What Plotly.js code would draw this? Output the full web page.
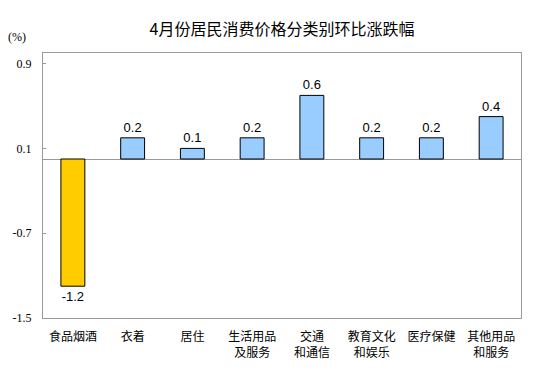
<!DOCTYPE html>
<html>
<head>
<meta charset="utf-8">
<script src="https://cdn.plot.ly/plotly-3.0.1.min.js"></script>
<style>html,body{margin:0;padding:0;background:#fff;}#chart{width:544px;height:383px;}</style>
</head>
<body>
<div id="chart"></div>
<script>
const categories = ["食品烟酒", "衣着", "居住", "生活用品<br>及服务", "交通<br>和通信", "教育文化<br>和娱乐", "医疗保健", "其他用品<br>和服务"];
const values = [-1.2, 0.2, 0.1, 0.2, 0.6, 0.2, 0.2, 0.4];
const barColors = ["#FFCC00", "#99CCFF", "#99CCFF", "#99CCFF", "#99CCFF", "#99CCFF", "#99CCFF", "#99CCFF"];
const yTicks = [0.9, 0.1, -0.7, -1.5];

const trace = {
  type: "bar",
  x: categories,
  y: values,
  width: 0.4,
  marker: {color: barColors, line: {color: "#000", width: 1}},
  text: values.map(v => v.toFixed(1)),
  textposition: "outside",
  cliponaxis: false,
  textfont: {family: "Liberation Sans, Arial, sans-serif", size: 13, color: "#000"},
  hoverinfo: "skip"
};

const layout = {
  width: 544, height: 383,
  margin: {l: 43, r: 23, t: 53, b: 65},
  paper_bgcolor: "#fff", plot_bgcolor: "#fff",
  showlegend: false,
  font: {family: "Noto Sans CJK SC, sans-serif", color: "#000"},
  title: {
    text: "4月份居民消费价格分类别环比涨跌幅",
    font: {family: "Noto Sans CJK SC, sans-serif", size: 16, color: "#000"},
    x: 0.5, xanchor: "center", xref: "paper",
    y: 1 - 29/383, yanchor: "middle", yref: "container"
  },
  xaxis: {
    type: "category",
    showline: true, linecolor: "#999", linewidth: 1, mirror: true,
    ticks: "", showgrid: false, zeroline: false,
    tickfont: {family: "Noto Sans CJK SC, sans-serif", size: 12, color: "#000"},
    ticklabelstandoff: 8
  },
  yaxis: {
    range: [-1.5, 1.0],
    tickvals: yTicks,
    ticktext: yTicks.map(v => v.toFixed(1)),
    ticks: "inside", ticklen: 3, tickcolor: "#999",
    showline: true, linecolor: "#999", linewidth: 1, mirror: true,
    showgrid: false,
    zeroline: true, zerolinecolor: "#999", zerolinewidth: 1,
    tickfont: {family: "Liberation Serif, Times New Roman, serif", size: 12, color: "#000"},
    ticklabelstandoff: 8
  },
  annotations: [{
    text: "(%)", xref: "paper", yref: "paper",
    x: (17 - 43) / 478, y: 1 + (53 - 37) / 265,
    xanchor: "center", yanchor: "middle", showarrow: false,
    font: {family: "Liberation Serif, Times New Roman, serif", size: 12, color: "#000"}
  }],
  bargap: 0.6
};

Plotly.newPlot("chart", [trace], layout, {displayModeBar: false, staticPlot: true});
</script>
</body>
</html>
